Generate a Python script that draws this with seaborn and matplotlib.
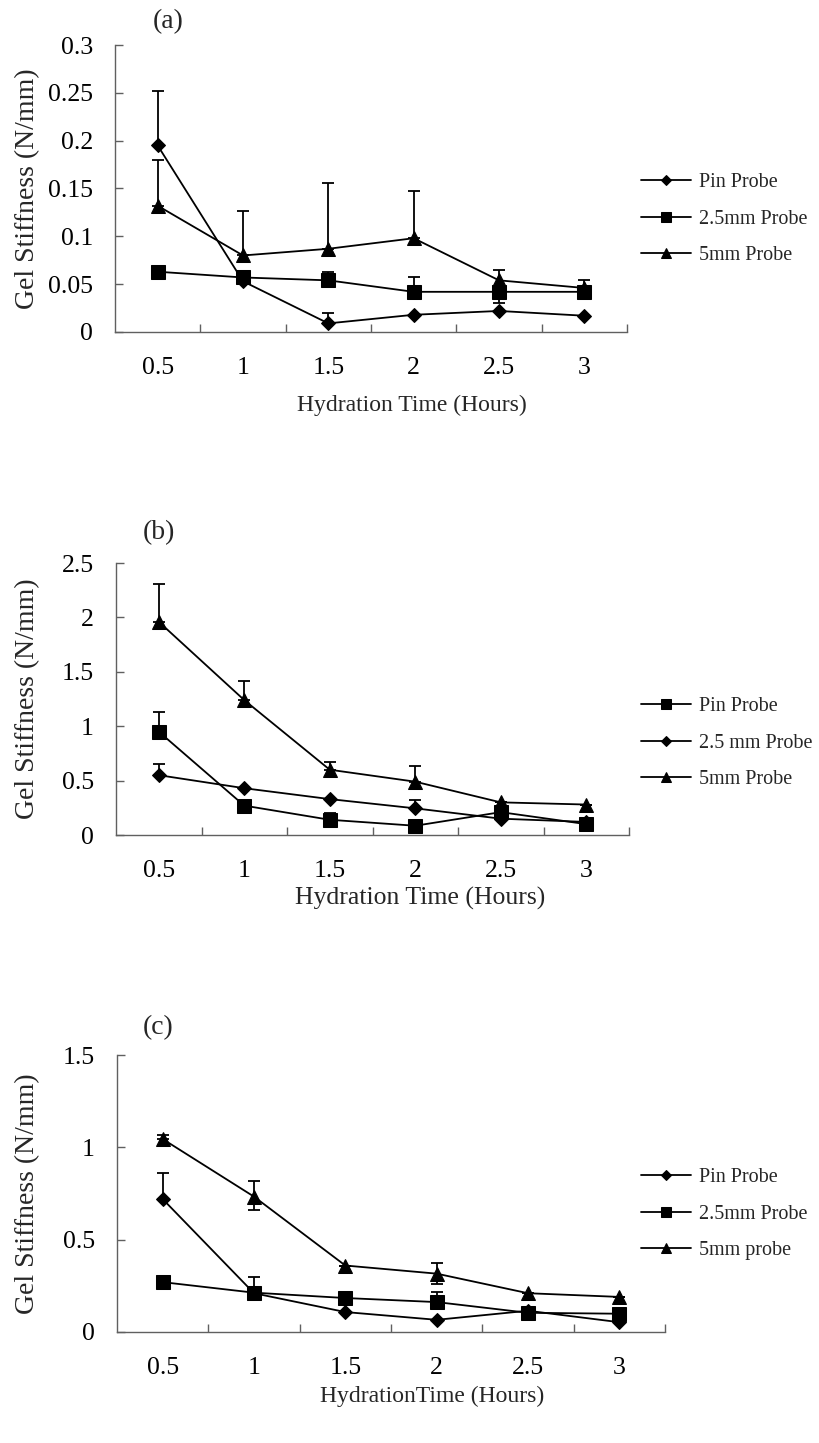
import numpy as np
import pandas as pd
import seaborn as sns
import matplotlib.pyplot as plt
from matplotlib.ticker import FixedLocator, FormatStrFormatter

# hydration time categories (hours)
hours = [0.5, 1, 1.5, 2, 2.5, 3]
hour_labels = ["0.5", "1", "1.5", "2", "2.5", "3"]

# panel (a)
a_pin = [0.195, 0.053, 0.009, 0.018, 0.022, 0.017]
a_pin_up = [0.057, 0.0, 0.011, 0.0, 0.0, 0.0]
a_sq = [0.063, 0.057, 0.054, 0.042, 0.042, 0.042]
a_sq_up = [0.0, 0.0, 0.009, 0.015, 0.004, 0.0]
a_tri = [0.132, 0.080, 0.087, 0.098, 0.054, 0.046]
a_tri_up = [0.048, 0.047, 0.069, 0.049, 0.011, 0.008]
a_tri_lo = [0.0, 0.0, 0.0, 0.0, 0.024, 0.0]
a_labels = ["Pin Probe", "2.5mm Probe", "5mm Probe"]

# panel (b)
b_pin = [0.95, 0.27, 0.14, 0.085, 0.21, 0.10]
b_pin_up = [0.18, 0.0, 0.06, 0.0, 0.0, 0.0]
b_mid = [0.55, 0.43, 0.33, 0.245, 0.15, 0.12]
b_mid_up = [0.10, 0.0, 0.0, 0.075, 0.0, 0.0]
b_tri = [1.96, 1.24, 0.60, 0.49, 0.30, 0.28]
b_tri_up = [0.35, 0.18, 0.07, 0.14, 0.0, 0.0]
b_labels = ["Pin Probe", "2.5 mm Probe", "5mm Probe"]

# panel (c)
c_pin = [0.72, 0.21, 0.108, 0.066, 0.115, 0.053]
c_pin_up = [0.14, 0.0, 0.0, 0.0, 0.0, 0.0]
c_sq = [0.27, 0.213, 0.184, 0.162, 0.104, 0.099]
c_sq_up = [0.0, 0.087, 0.0, 0.054, 0.0, 0.0]
c_tri = [1.045, 0.733, 0.36, 0.316, 0.21, 0.19]
c_tri_up = [0.02, 0.087, 0.0, 0.058, 0.0, 0.0]
c_tri_lo = [0.0, 0.073, 0.0, 0.056, 0.0, 0.0]
c_labels = ["Pin Probe", "2.5mm Probe", "5mm probe"]

zeros = [0.0] * 6

sns.set_theme(style="white")
plt.rcParams["font.family"] = ["Liberation Serif", "DejaVu Serif"]

W, H = 819, 1443
fig = plt.figure(figsize=(W / 100, H / 100), dpi=100)
GREY = "#606060"


def px_axes(left, top, right, bottom):
    return fig.add_axes([left / W, 1 - bottom / H, (right - left) / W, (bottom - top) / H])


def panel(ax, series, labels, ymax, ystep, leg_y, tag, tag_xy, xlabel, xlabel_xy, xl_size):
    for (vals, up, lo, marker, ms), lab in zip(series, labels):
        ax.errorbar(hours, vals, yerr=[lo, up], fmt="none", ecolor="black",
                    elinewidth=1.3, capsize=4.3, capthick=1.3, zorder=2)
        sns.lineplot(x=hours, y=vals, marker=marker, markersize=ms, color="black",
                     markeredgecolor="black", linewidth=1.3, label=lab, ax=ax, zorder=3)

    ax.set_xlim(0.25, 3.25)
    ax.set_xticks(hours)
    ax.set_xticklabels(hour_labels)
    ax.xaxis.set_minor_locator(FixedLocator(np.arange(0.75, 3.3, 0.5)))
    ax.tick_params(axis="x", which="major", length=0, pad=18, labelsize=18.5, colors="black")
    ax.tick_params(axis="x", which="minor", bottom=True, direction="in", length=6,
                   width=1, color=GREY)

    ax.set_ylim(0, ymax)
    ax.set_yticks(np.arange(0, ymax + ystep / 2, ystep))
    ax.yaxis.set_major_formatter(FormatStrFormatter("%g"))
    ax.tick_params(axis="y", left=True, direction="in", length=5.5, width=1, color=GREY,
                   pad=16, labelsize=18.5, labelcolor="black")

    for s in ["top", "right"]:
        ax.spines[s].set_visible(False)
    for s in ["left", "bottom"]:
        ax.spines[s].set_color(GREY)
        ax.spines[s].set_linewidth(1)
    ax.set_xlabel("")
    ax.set_ylabel("")

    handles, labs = ax.get_legend_handles_labels()
    ax.legend(handles, labs, loc="center left", bbox_to_anchor=(641 / W, 1 - leg_y / H),
              bbox_transform=fig.transFigure, frameon=False, fontsize=14.5,
              handlelength=2.5, handletextpad=0.4, labelspacing=0.85,
              borderpad=0, borderaxespad=0, markerscale=0.75)

    fig.text(tag_xy[0] / W, 1 - tag_xy[1] / H, tag, ha="center", va="center", fontsize=20)
    fig.text(xlabel_xy[0] / W, 1 - xlabel_xy[1] / H, xlabel, ha="center", va="center",
             fontsize=xl_size)
    top = ax.get_position().y1
    bot = ax.get_position().y0
    fig.text(28 / W, (top + bot) / 2, "Gel Stiffness (N/mm)", rotation=90,
             ha="center", va="center", fontsize=20)


ax_a = px_axes(115, 45, 627, 332)
panel(ax_a,
      [(a_pin, a_pin_up, zeros, "D", 6.8),
       (a_sq, a_sq_up, zeros, "s", 10),
       (a_tri, a_tri_up, a_tri_lo, "^", 10)],
      a_labels, 0.3, 0.05, 219, "(a)", (168, 22),
      "Hydration Time (Hours)", (412, 405), 17)

ax_b = px_axes(116, 563, 629, 835)
panel(ax_b,
      [(b_pin, b_pin_up, zeros, "s", 10),
       (b_mid, b_mid_up, zeros, "D", 6.8),
       (b_tri, b_tri_up, zeros, "^", 10)],
      b_labels, 2.5, 0.5, 743, "(b)", (159, 533),
      "Hydration Time (Hours)", (420, 898), 18.5)

ax_c = px_axes(117, 1055, 665, 1332)
panel(ax_c,
      [(c_pin, c_pin_up, zeros, "D", 6.8),
       (c_sq, c_sq_up, zeros, "s", 10),
       (c_tri, c_tri_up, c_tri_lo, "^", 10)],
      c_labels, 1.5, 0.5, 1214, "(c)", (158, 1028),
      "HydrationTime (Hours)", (432, 1396), 17)

fig.savefig("out.png", dpi=100, facecolor="white")
